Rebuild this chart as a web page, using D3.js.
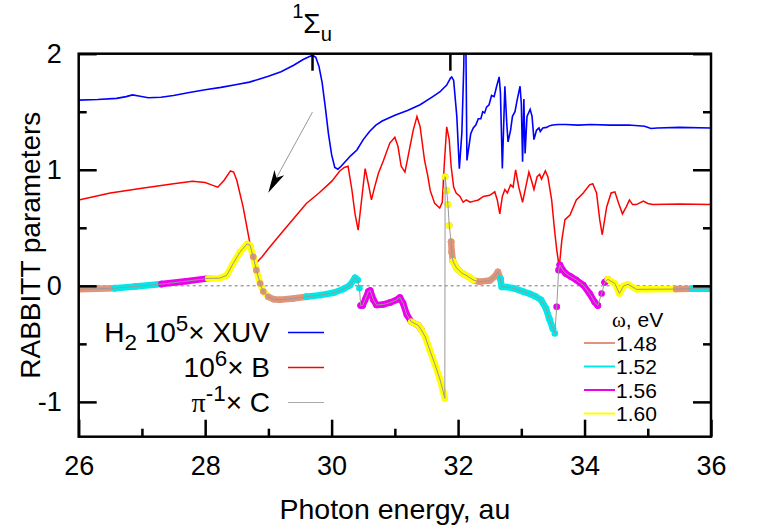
<!DOCTYPE html>
<html>
<head>
<meta charset="utf-8">
<script src="https://cdnjs.cloudflare.com/ajax/libs/d3/7.8.5/d3.min.js"></script>
<style>
body { margin: 0; background: #fff; }
svg { font-family: "Liberation Sans", Arial, sans-serif; }
.axis line { stroke: #000; stroke-width: 2.5; }
.axis path { display: none; }
.axis text { font-size: 27px; fill: #000; }
</style>
</head>
<body>
<svg id="rabbittChart" width="763" height="530"></svg>
<script>
/*********************************************
    * RABBITT parameters, H2
*********************************************/

// 10^5 x XUV
var xuvE = [26.00, 26.30, 26.60, 26.75, 26.85, 26.95, 27.10, 27.30, 27.50, 27.75, 28.00, 28.25, 28.50, 28.70, 28.85,
    29.00, 29.20, 29.40, 29.55, 29.65, 29.70, 29.75, 29.80, 29.85, 29.90, 29.95, 30.00, 30.05, 30.10, 30.15, 30.20,
    30.30, 30.40, 30.50, 30.60, 30.70, 30.80, 31.00, 31.20, 31.40, 31.60, 31.71, 31.82, 31.88, 31.90, 31.93, 31.98,
    32.02, 32.06, 32.09, 32.10, 32.12, 32.14, 32.20, 32.24, 32.28, 32.32, 32.36, 32.39, 32.42, 32.45, 32.49, 32.53,
    32.57, 32.61, 32.65, 32.67, 32.70, 32.74, 32.77, 32.79, 32.83, 32.86, 32.90, 32.93, 32.98, 33.00, 33.02, 33.04,
    33.06, 33.09, 33.14, 33.17, 33.20, 33.24, 33.28, 33.30, 33.34, 33.40, 33.45, 33.50, 33.58, 33.70, 33.90, 34.10,
    34.40, 34.70, 34.95, 35.05, 35.15, 35.50, 36.00];
var xuvV = [1.600, 1.605, 1.615, 1.630, 1.645, 1.635, 1.620, 1.625, 1.640, 1.665, 1.690, 1.710, 1.735, 1.755, 1.780,
    1.805, 1.845, 1.900, 1.950, 1.975, 1.985, 1.970, 1.890, 1.750, 1.540, 1.310, 1.130, 1.020, 1.005, 1.030, 1.060,
    1.120, 1.170, 1.260, 1.330, 1.385, 1.420, 1.470, 1.510, 1.560, 1.630, 1.670, 1.730, 1.790, 1.800, 1.770, 1.460,
    1.010, 1.320, 1.890, 2.300, 2.300, 1.080, 1.310, 1.360, 1.385, 1.440, 1.440, 1.500, 1.490, 1.540, 1.560, 1.640,
    1.630, 1.720, 1.800, 1.660, 1.010, 1.720, 1.400, 1.240, 1.340, 1.460, 1.500, 1.590, 1.720, 1.570, 1.070, 1.610,
    1.140, 1.460, 1.520, 1.460, 1.260, 1.340, 1.360, 1.330, 1.360, 1.365, 1.380, 1.385, 1.390, 1.390, 1.385, 1.390,
    1.385, 1.385, 1.375, 1.355, 1.360, 1.365, 1.360];

// 10^6 x B
var bE = [26.00, 26.50, 27.00, 27.50, 27.80, 28.00, 28.10, 28.20, 28.30, 28.40, 28.45, 28.50, 28.60, 28.70, 28.75,
    28.80, 28.90, 29.00, 29.20, 29.40, 29.60, 29.80, 30.00, 30.13, 30.20, 30.26, 30.32, 30.37, 30.42, 30.47, 30.53,
    30.58, 30.63, 30.68, 30.74, 30.82, 30.92, 31.00, 31.05, 31.10, 31.16, 31.20, 31.29, 31.35, 31.40, 31.47, 31.52,
    31.56, 31.63, 31.71, 31.75, 31.78, 31.82, 31.86, 31.89, 31.93, 31.97, 32.03, 32.08, 32.13, 32.19, 32.25, 32.32,
    32.40, 32.50, 32.58, 32.62, 32.66, 32.70, 32.74, 32.78, 32.83, 32.87, 32.91, 32.96, 33.02, 33.07, 33.12, 33.16,
    33.20, 33.25, 33.29, 33.32, 33.38, 33.42, 33.48, 33.52, 33.56, 33.60, 33.64, 33.69, 33.77, 33.87, 33.98, 34.08,
    34.13, 34.19, 34.24, 34.28, 34.35, 34.42, 34.48, 34.54, 34.60, 34.66, 34.71, 34.76, 34.82, 34.93, 35.00, 35.08,
    35.50, 36.00];
var bV = [0.74, 0.80, 0.84, 0.88, 0.90, 0.89, 0.87, 0.85, 0.91, 0.99, 0.98, 0.91, 0.68, 0.39, 0.25,
    0.19, 0.25, 0.32, 0.45, 0.58, 0.71, 0.80, 0.90, 0.99, 1.02, 1.03, 0.83, 0.62, 0.48, 0.72, 1.01,
    0.88, 0.74, 0.85, 0.97, 1.08, 1.23, 1.28, 1.20, 1.03, 0.98, 1.09, 1.34, 1.46, 1.37, 1.08, 0.95,
    0.82, 0.71, 0.67, 0.72, 1.03, 1.37, 1.26, 1.03, 0.85, 0.80, 0.77, 0.72, 0.74, 0.72, 0.73, 0.74,
    0.77, 0.78, 0.81, 0.74, 0.62, 0.77, 0.83, 0.80, 0.87, 0.85, 1.00, 0.85, 0.72, 0.85, 0.98, 0.91,
    0.83, 0.94, 0.96, 0.92, 0.99, 0.94, 0.74, 0.51, 0.31, 0.16, 0.39, 0.57, 0.61, 0.74, 0.80, 0.87,
    0.88, 0.80, 0.57, 0.44, 0.68, 0.80, 0.81, 0.71, 0.62, 0.68, 0.74, 0.70, 0.70, 0.73, 0.71, 0.70,
    0.705, 0.70];

// pi^-1 x C
var cE = [26.00, 26.30, 26.57, 26.90, 27.31, 27.70, 28.05, 28.23, 28.34, 28.44, 28.55, 28.66, 28.71, 28.76, 28.81,
    28.87, 28.92, 29.00, 29.08, 29.18, 29.39, 29.60, 29.82, 30.03, 30.18, 30.29, 30.37, 30.41, 30.44, 30.46, 30.49,
    30.53, 30.58, 30.61, 30.66, 30.71, 30.82, 30.92, 31.03, 31.08, 31.13, 31.19, 31.26, 31.37, 31.42, 31.48, 31.55,
    31.63, 31.71, 31.76, 31.79, 31.795, 31.82, 31.84, 31.86, 31.89, 31.90, 31.92, 31.98, 32.06, 32.16, 32.24, 32.34,
    32.50, 32.58, 32.63, 32.67, 32.69, 32.77, 32.87, 32.98, 33.03, 33.14, 33.22, 33.31, 33.39, 33.44, 33.50, 33.53,
    33.56, 33.59, 33.61, 33.65, 33.70, 33.78, 33.87, 33.98, 34.08, 34.16, 34.21, 34.27, 34.32, 34.37, 34.48, 34.55,
    34.62, 34.69, 34.82, 34.98, 35.45, 35.70, 36.00];
var cV = [-0.030, -0.025, -0.020, -0.005, 0.015, 0.040, 0.064, 0.066, 0.090, 0.190, 0.290, 0.360, 0.350, 0.250, 0.135,
    0.020, -0.050, -0.095, -0.115, -0.120, -0.110, -0.095, -0.080, -0.060, -0.030, 0.005, 0.070, 0.050, -0.020, -0.170, -0.170,
    -0.120, -0.050, -0.040, -0.120, -0.165, -0.160, -0.145, -0.120, -0.100, -0.150, -0.250, -0.310, -0.340, -0.380, -0.440, -0.550,
    -0.670, -0.800, -0.900, -0.970, 0.940, 0.820, 0.700, 0.520, 0.380, 0.290, 0.210, 0.150, 0.110, 0.080, 0.050, 0.035,
    0.045, 0.080, 0.120, 0.060, -0.010, -0.010, -0.020, -0.040, -0.050, -0.070, -0.090, -0.120, -0.195, -0.280, -0.370, -0.410,
    -0.180, 0.135, 0.180, 0.140, 0.107, 0.080, 0.050, 0.006, -0.066, -0.140, -0.170, -0.066, 0.030, 0.056, 0.020, -0.066,
    0.000, 0.013, -0.030, -0.030, -0.028, -0.025, -0.025];

// photon frequencies, eV, and the energy ranges each one covers (drawing order)
var omegas = ['1.48', '1.52', '1.56', '1.60'];
var segOmega = [0, 1, 2, 3, 0, 0, 1, 1, 2, 3, 0, 3, 0, 3, 1, 1, 2, 2, 2, 2, 3, 0, 1];
var segFrom  = [26.00, 26.57, 27.31, 28.05, 28.76, 29.00, 29.60, 30.41, 30.46, 31.26, 31.795, 31.795, 31.89, 31.92, 32.67, 33.44, 33.56, 33.61, 34.21, 34.32, 34.37, 35.45, 35.70];
var segTo    = [26.57, 27.31, 28.05, 29.00, 28.92, 29.60, 30.41, 30.49, 31.42, 31.79, 31.92, 31.92, 32.67, 32.24, 33.50, 33.61, 33.61, 34.21, 34.32, 34.37, 35.45, 35.70, 36.00];
var segDots  = [false, false, false, false, true, false, false, true, false, false, true, true, false, false, false, true, true, false, true, false, false, false, false];

var xTicks = [26, 28, 30, 32, 34, 36],
    xMinor = [27, 29, 31, 33, 35],
    yTicks = [-1, 0, 1, 2],
    yMinor = [-0.5, 0.5, 1.5],
    topTicks = [29.69, 31.87];

var svg = d3.select("#rabbittChart"),
    margin = {top: 53.7, right: 52, bottom: 93.3, left: 78.7},
    width = +svg.attr("width") - margin.left - margin.right,
    height = +svg.attr("height") - margin.top - margin.bottom,
    g = svg.append("g").attr("transform", "translate(" + margin.left + "," + margin.top + ")");

var x = d3.scaleLinear().domain([26, 36]).range([0, width]);
var y = d3.scaleLinear().domain([-1.3, 2]).range([height, 0]);
var omegaColor = d3.scaleOrdinal().domain(omegas).range(["#e0957a", "#00e8e8", "#ee00ee", "#ffff00"]);

svg.append("defs").append("clipPath").attr("id", "plotClip")
  .append("rect").attr("width", width).attr("height", height);

var plot = g.append("g").attr("clip-path", "url(#plotClip)");

var line = d3.line()
    .x(function(d) { return x(d[0]); })
    .y(function(d) { return y(d[1]); });

function zip(a, b) { return a.map(function(v, i) { return [v, b[i]]; }); }
var xuvData = zip(xuvE, xuvV), bData = zip(bE, bV), cData = zip(cE, cV);

// zero line
plot.append("line")
    .attr("x1", x(26)).attr("x2", x(36))
    .attr("y1", y(0)).attr("y2", y(0))
    .attr("stroke", "#777").attr("stroke-width", 1)
    .attr("stroke-dasharray", "3,3");

plot.append("path").datum(xuvData)
    .attr("fill", "none").attr("stroke", "#0000ff").attr("stroke-width", 1.6)
    .attr("d", line);

plot.append("path").datum(bData)
    .attr("fill", "none").attr("stroke", "#ff0000").attr("stroke-width", 1.5)
    .attr("d", line);

// colored omega segments
segOmega.forEach(function(w, i) {
    var pts = cData.filter(function(d) { return d[0] >= segFrom[i] - 1e-9 && d[0] <= segTo[i] + 1e-9; });
    var col = omegaColor(omegas[w]);
    if (!segDots[i]) {
        plot.append("path").datum(pts)
            .attr("fill", "none").attr("stroke", col).attr("stroke-width", 6.5)
            .attr("stroke-linecap", "round").attr("stroke-linejoin", "round")
            .attr("d", line);
    }
    plot.selectAll(null).data(pts).enter().append("circle")
        .attr("cx", function(d) { return x(d[0]); })
        .attr("cy", function(d) { return y(d[1]); })
        .attr("r", 3.3)
        .attr("fill", col);
});

plot.append("path").datum(cData)
    .attr("fill", "none").attr("stroke", "#999").attr("stroke-width", 1)
    .attr("d", line);

// axes
function fmt(d) { return String(d); }
g.append("g").attr("class", "axis").attr("transform", "translate(0," + height + ")")
    .call(d3.axisBottom(x).tickValues(xTicks).tickSize(-17).tickSizeOuter(0).tickPadding(19).tickFormat(fmt));
g.append("g").attr("class", "axis").attr("transform", "translate(0," + height + ")")
    .call(d3.axisBottom(x).tickValues(xMinor).tickSize(-8).tickSizeOuter(0).tickFormat(""));
g.append("g").attr("class", "axis")
    .call(d3.axisTop(x).tickValues(topTicks).tickSize(-17).tickSizeOuter(0).tickFormat(""));
g.append("g").attr("class", "axis")
    .call(d3.axisLeft(y).tickValues(yTicks).tickSize(-18).tickSizeOuter(0).tickPadding(17).tickFormat(fmt));
g.append("g").attr("class", "axis")
    .call(d3.axisLeft(y).tickValues(yMinor).tickSize(-8).tickSizeOuter(0).tickFormat(""));
g.append("g").attr("class", "axis").attr("transform", "translate(" + width + ",0)")
    .call(d3.axisRight(y).tickValues(yTicks).tickSize(-18).tickSizeOuter(0).tickFormat(""));
g.append("g").attr("class", "axis").attr("transform", "translate(" + width + ",0)")
    .call(d3.axisRight(y).tickValues(yMinor).tickSize(-8).tickSizeOuter(0).tickFormat(""));

g.append("rect")
    .attr("width", width).attr("height", height)
    .attr("fill", "none").attr("stroke", "#000").attr("stroke-width", 2.5);

// rich text with super/subscripts
function richText(sel, parts, size, supUp, subDown, scale) {
    var shift = 0;
    parts.forEach(function(p) {
        var target = p.sup ? -supUp * size : (p.sub ? subDown * size : 0);
        var t = sel.append("tspan")
            .attr("dy", target - shift)
            .attr("font-size", (p.sup || p.sub) ? size * scale : size)
            .text(p.t);
        if (p.serif) t.attr("font-family", "'Liberation Serif', serif");
        shift = target;
    });
}

// state label above the top tick
var lbl = g.append("text").attr("x", x(29.69)).attr("y", -21)
    .attr("text-anchor", "middle");
richText(lbl, [{t: "1", sup: true}, {t: "Σ"}, {t: "u", sub: true}], 28, 0.52, 0.3, 0.72);

// arrow
var arrowFrom = [29.697, 1.497], arrowTo = [28.998, 0.802];
var ax0 = x(arrowFrom[0]), ay0 = y(arrowFrom[1]), ax1 = x(arrowTo[0]), ay1 = y(arrowTo[1]);
var alen = Math.hypot(ax1 - ax0, ay1 - ay0), ux = (ax1 - ax0) / alen, uy = (ay1 - ay0) / alen;
g.append("line")
    .attr("x1", ax0).attr("y1", ay0).attr("x2", ax1 - ux * 10).attr("y2", ay1 - uy * 10)
    .attr("stroke", "#999").attr("stroke-width", 1);
g.append("path")
    .attr("d", "M" + ax1 + "," + ay1 +
        "L" + (ax1 - ux * 23 + uy * 5.5) + "," + (ay1 - uy * 23 - ux * 5.5) +
        "L" + (ax1 - ux * 17) + "," + (ay1 - uy * 17) +
        "L" + (ax1 - ux * 23 - uy * 5.5) + "," + (ay1 - uy * 23 + ux * 5.5) + "Z")
    .attr("fill", "#000");

// axis titles
svg.append("text")
    .attr("x", margin.left + width / 2).attr("y", 519)
    .attr("text-anchor", "middle").attr("font-size", 28.5)
    .text("Photon energy, au");
svg.append("text")
    .attr("transform", "rotate(-90)")
    .attr("x", -(margin.top + height / 2)).attr("y", 40)
    .attr("text-anchor", "middle").attr("font-size", 28)
    .text("RABBITT parameters");

// main legend
var mainLegend = [
    {parts: [{t: "H"}, {t: "2", sub: true}, {t: " 10"}, {t: "5", sup: true}, {t: "× XUV"}], color: "#0000ff", w: 1.6},
    {parts: [{t: "10"}, {t: "6", sup: true}, {t: "× B"}], color: "#ff0000", w: 1.5},
    {parts: [{t: "π", serif: true}, {t: "-1", sup: true}, {t: "× C"}], color: "#aaa", w: 1}
];
var legend = svg.selectAll(".legendMain")
    .data(mainLegend)
    .enter().append("g")
    .attr("class", "legendMain")
    .attr("transform", function(d, i) { return "translate(0," + (332.5 + 35 * i) + ")"; });
legend.append("line")
    .attr("x1", 288).attr("x2", 324)
    .attr("stroke", function(d) { return d.color; })
    .attr("stroke-width", function(d) { return d.w; });
legend.each(function(d) {
    var t = d3.select(this).append("text").attr("x", 270).attr("y", 9.5).attr("text-anchor", "end");
    richText(t, d.parts, 28, 0.4, 0.3, 0.8);
});

// omega legend
var wTitle = svg.append("text").attr("x", 612).attr("y", 327).attr("font-size", 21);
wTitle.append("tspan").attr("font-family", "'Liberation Serif', serif").text("ω");
wTitle.append("tspan").text(", eV");

var legendW = svg.selectAll(".legendOmega")
    .data(omegas)
    .enter().append("g")
    .attr("class", "legendOmega")
    .attr("transform", function(d, i) { return "translate(0," + (343 + 23.5 * i) + ")"; });
legendW.append("line")
    .attr("x1", 584).attr("x2", 615)
    .attr("stroke", function(d) { return omegaColor(d); })
    .attr("stroke-width", 2);
legendW.append("text")
    .attr("x", 616).attr("y", 7.5)
    .attr("font-size", 21)
    .text(function(d) { return d; });
</script>
</body>
</html>
